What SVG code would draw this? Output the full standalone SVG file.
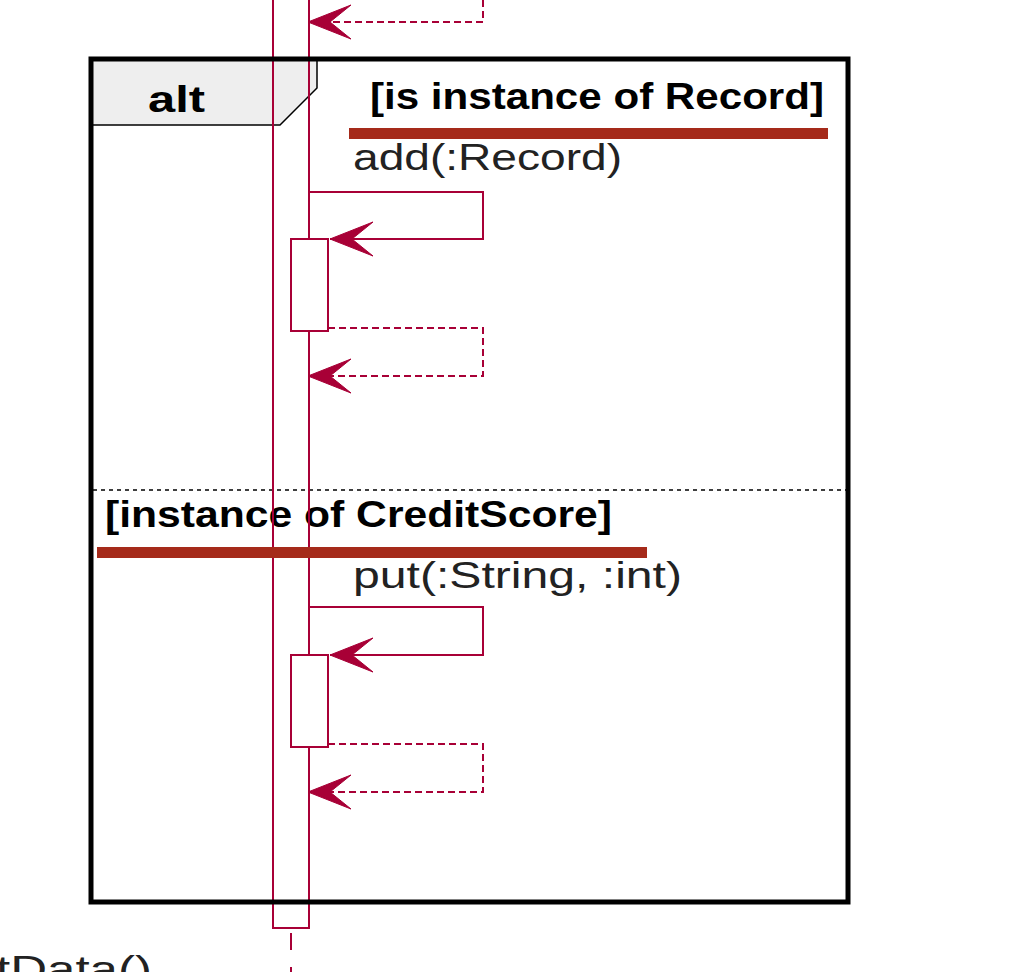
<svg xmlns="http://www.w3.org/2000/svg" width="1018" height="972" viewBox="0 0 1018 972">
<style>
.ll{stroke:#A80036;stroke-width:2;fill:none}
.act{stroke:#A80036;stroke-width:2;fill:#FFFFFF}
.msg{stroke:#A80036;stroke-width:2;fill:none}
.ret{stroke:#A80036;stroke-width:2;fill:none;stroke-dasharray:7,4}
.head{fill:#A80036;stroke:#A80036;stroke-width:1}
.lbl{font-family:"Liberation Sans",Arial,sans-serif;font-size:36px;fill:#222222}
.cond{font-family:"Liberation Sans",Arial,sans-serif;font-size:36px;font-weight:bold;fill:#000000}
.bar{fill:#A52A1A}
</style>
<defs>
<polygon id="ah" points="0,0 43,-17 22,0 43,17"/>
</defs>

<g id="lifeline">
  <rect x="273" y="-10" width="36" height="938" fill="#FFFFFF" stroke="none"/>
  <line x1="291" y1="933" x2="291" y2="975" class="ll" stroke-dasharray="17,17"/>
</g>

<g id="alt-frame-back">
  <path d="M91,59 H317 V88 L280,125 H91 Z" fill="#EEEEEE" stroke="#000000" stroke-width="1.5"/>
  <text x="148" y="112" class="cond" font-size="40" textLength="57" lengthAdjust="spacingAndGlyphs">alt</text>
  <text x="370" y="109" class="cond" textLength="454" lengthAdjust="spacingAndGlyphs">[is instance of Record]</text>
  <line x1="93" y1="490" x2="846" y2="490" stroke="#000000" stroke-width="1.5" stroke-dasharray="4,4"/>
  <text x="105" y="527" class="cond" textLength="507" lengthAdjust="spacingAndGlyphs">[instance of CreditScore]</text>
</g>

<g id="activation">
  <rect x="273" y="-10" width="36" height="938" class="ll"/>
</g>

<g id="connectors">
  <!-- return at top -->
  <path d="M483,0 V22 H309" class="ret"/>
  <use href="#ah" x="308" y="22" class="head"/>

  <!-- add(:Record) -->
  <text x="353" y="170" class="lbl" textLength="269" lengthAdjust="spacingAndGlyphs">add(:Record)</text>
  <path d="M309,192 H483 V239 H330" class="msg"/>
  <use href="#ah" x="330" y="239" class="head"/>
  <rect x="291" y="239" width="37" height="92" class="act"/>
  <path d="M328,328 H483 V376 H309" class="ret"/>
  <use href="#ah" x="308" y="376" class="head"/>

  <!-- put(:String, :int) -->
  <text x="353" y="588" class="lbl" textLength="329" lengthAdjust="spacingAndGlyphs">put(:String, :int)</text>
  <path d="M309,607 H483 V655 H330" class="msg"/>
  <use href="#ah" x="330" y="655" class="head"/>
  <rect x="291" y="655" width="37" height="92" class="act"/>
  <path d="M328,744 H483 V792 H309" class="ret"/>
  <use href="#ah" x="308" y="792" class="head"/>
</g>

<g id="alt-frame-border">
  <rect x="91" y="59" width="757" height="843" fill="none" stroke="#000000" stroke-width="5"/>
</g>

<g id="highlights">
  <rect x="349" y="128" width="479" height="11" class="bar"/>
  <rect x="97" y="547" width="550" height="11" class="bar"/>
</g>

<g id="bottom-label">
  <text x="-4" y="982" class="lbl" textLength="156" lengthAdjust="spacingAndGlyphs">tData()</text>
</g>
</svg>
